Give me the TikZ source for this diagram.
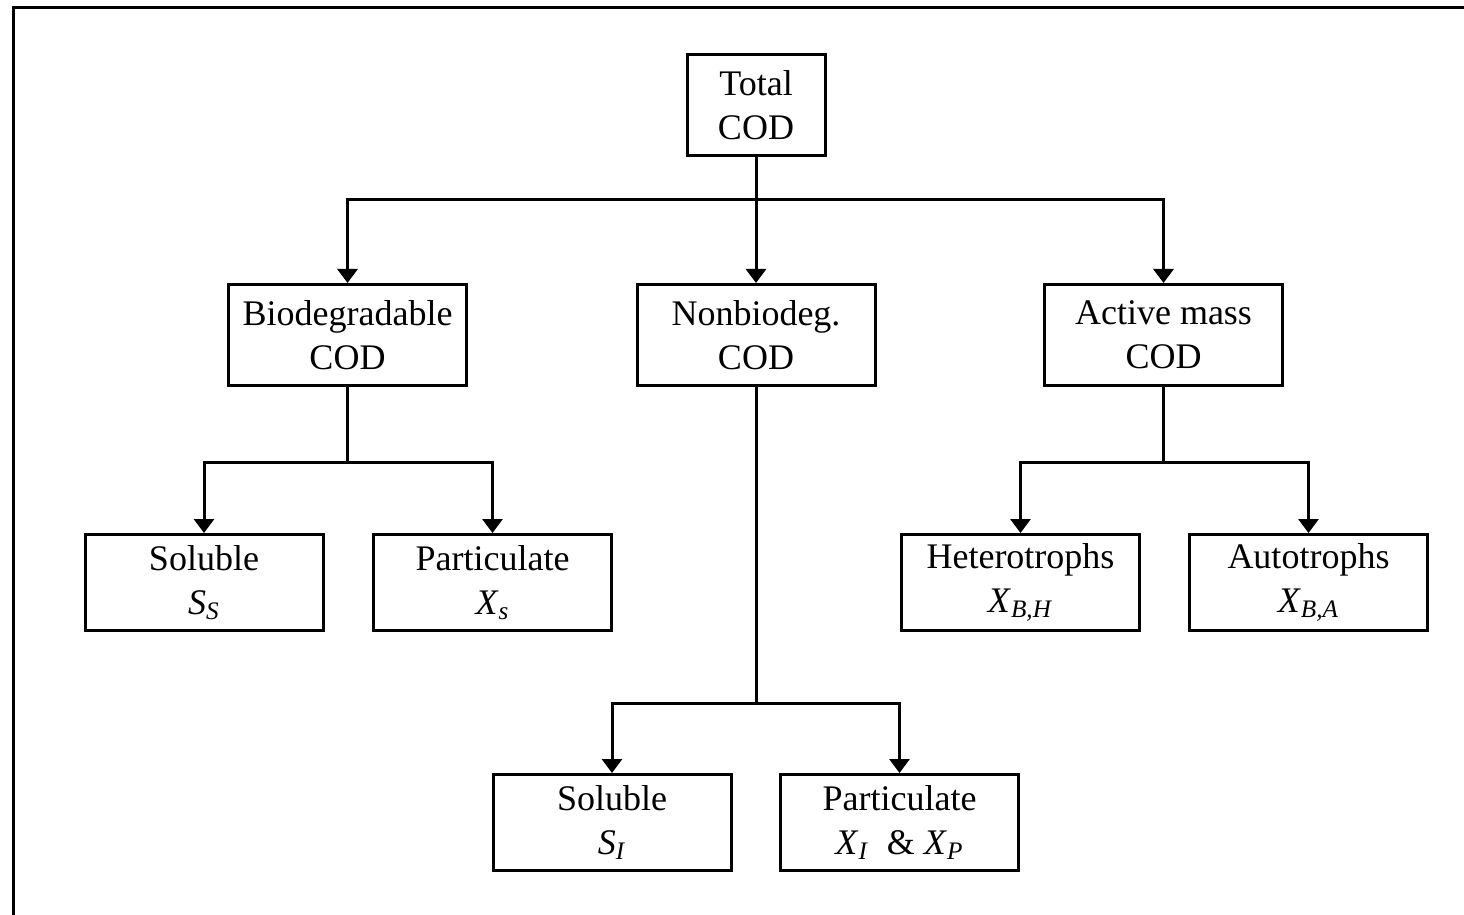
\documentclass[tikz,border=0pt]{standalone}
\usepackage{fontspec}
\setmainfont{Liberation Serif}
\usetikzlibrary{arrows.meta}
\newcommand{\cvar}[2]{\textit{#1}\textsubscript{\textit{#2}}}

\begin{document}
\begin{tikzpicture}[
  x=0.5pt, y=-0.5pt,
  box/.style={draw=black, line width=1.5pt, inner sep=0pt, align=center,
    minimum width=119pt, minimum height=50.5pt, font=\fontsize{18}{22}\selectfont},
  lowbox/.style={box, minimum height=48pt},
  link/.style={line width=1.5pt, draw=black},
  arrow/.style={link, -{Triangle[width=10pt,length=7pt]}},
  frame/.style={line width=1.5pt, draw=black}
]
  \useasboundingbox (0,0) rectangle (1464,915);
  \draw[frame] (13,915) -- (13,8) -- (1464,8);

  % Boxes
  \node[box, minimum width=69pt] (total) at (756, 105) {Total\\COD};
  \node[box] (bio)   at (347.5, 335) {Biodegradable\\COD};
  \node[box] (non)   at (756, 335)   {Nonbiodeg.\\COD};
  \node[box] (act)   at (1163.5, 335) {Active mass\\COD};
  \node[lowbox] (solS)  at (204, 582.5)    {Soluble\\\cvar{S}{S}};
  \node[lowbox] (partS) at (492.5, 582.5)  {Particulate\\\cvar{X}{s}};
  \node[lowbox] (het)   at (1020.5, 582.5) {Heterotrophs\\\cvar{X}{B,H}};
  \node[lowbox] (aut)   at (1308.5, 582.5) {Autotrophs\\\cvar{X}{B,A}};
  \node[lowbox] (solI)  at (612, 822.5)    {Soluble\\\cvar{S}{I}};
  \node[lowbox] (partI) at (899.5, 822.5)  {Particulate\\\cvar{X}{I}\ \ \& \cvar{X}{P}};

  % Connectors
  \draw[link] (total.south) -- ++(0,43) coordinate (j1);
  \draw[arrow] (j1) -| (bio.north);
  \draw[arrow] (j1) -- (non.north);
  \draw[arrow] (j1) -| (act.north);

  \draw[link] (bio.south) -- ++(0,75) coordinate (j2);
  \draw[arrow] (j2) -| (solS.north);
  \draw[arrow] (j2) -| (partS.north);

  \draw[link] (act.south) -- ++(0,75) coordinate (j3);
  \draw[arrow] (j3) -| (het.north);
  \draw[arrow] (j3) -| (aut.north);

  \draw[link] (non.south) -- ++(0,316) coordinate (j4);
  \draw[arrow] (j4) -| (solI.north);
  \draw[arrow] (j4) -| (partI.north);
\end{tikzpicture}
\end{document}
